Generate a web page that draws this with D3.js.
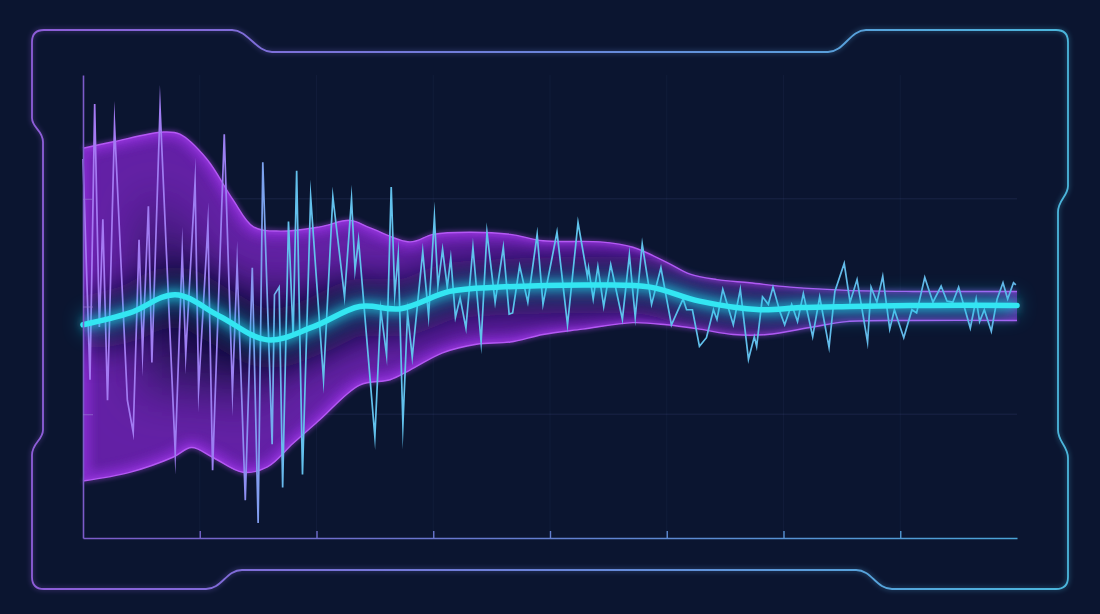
<!DOCTYPE html>
<html>
<head>
<meta charset="utf-8">
<script src="https://cdn.jsdelivr.net/npm/d3@7"></script>
<style>
html, body { margin: 0; background: #0b1530; }
svg { display: block; }
</style>
</head>
<body>
<svg width="1100" height="614"></svg>
<script>
// raw signal (time, amplitude)
var sigT = [0,0.6,1.0,1.4,1.7,2.1,2.7,3.8,4.3,4.8,5.1,5.6,5.9,6.6,7.9,8.5,8.8,9.6,9.9,10.7,
  11.1,12.1,12.8,13.2,13.9,14.5,15.0,15.4,16.2,16.4,16.8,17.1,17.6,18.0,18.3,18.8,19.5,20.6,21.4,22.4,
  23.0,23.3,23.6,25.0,25.5,26.0,26.4,26.7,27.0,27.4,27.8,28.2,29.1,29.6,30.1,30.4,30.8,31.2,31.5,31.9,
  32.3,32.8,33.4,34.1,34.6,35.3,36.0,36.5,36.8,37.4,38.1,38.9,39.4,40.6,41.5,42.4,43.2,43.3,43.7,44.1,
  44.6,45.2,46.2,46.8,47.3,47.9,48.7,49.5,50.4,51.4,51.7,52.2,52.8,53.4,54.0,54.3,54.8,55.7,56.3,57.0,
  57.5,57.7,58.2,58.7,59.1,59.7,60.1,60.7,61.2,61.7,62.5,63.1,63.9,64.4,65.2,65.7,66.3,67.2,67.5,68.0,
  68.5,69.1,69.5,70.3,71.0,71.4,72.1,72.8,73.5,74.0,74.5,75.0,76.0,76.5,76.8,77.2,77.8,78.3,78.8,79.2,
  79.7,79.9];
var sigV = [1.37,-0.68,1.88,-0.19,0.81,-0.87,1.69,-0.87,-1.17,0.62,-0.43,0.93,-0.52,1.85,-1.36,0.51,-0.45,1.16,-0.77,0.76,
  -1.52,1.60,-0.79,0.39,-1.80,0.36,-2.01,1.34,-1.28,0.11,0.18,-1.68,0.79,-0.28,1.26,-1.56,1.02,-0.68,1.02,0.09,
  1.00,0.34,0.62,-1.21,-0.03,-0.45,1.11,0.11,0.48,-1.10,-0.06,-0.47,0.51,-0.09,0.83,0.19,0.53,0.18,0.45,-0.10,
  0.08,-0.20,0.55,-0.33,0.69,0.04,0.55,-0.07,-0.06,0.38,0.04,0.67,0.02,0.69,-0.17,0.78,0.28,0.36,0.07,0.37,
  0,0.39,-0.12,0.48,-0.10,0.58,0.02,0.36,-0.17,0.07,-0.03,-0.03,-0.37,-0.29,-0.03,-0.12,0.16,-0.17,0.16,-0.49,
  -0.28,-0.37,0.09,0.02,0.18,-0.05,-0.17,0.02,-0.14,0.12,-0.28,0.09,-0.38,0.14,0.40,0.04,0.25,-0.33,0.18,0.04,
  0.28,-0.21,-0.03,-0.29,-0.03,-0.06,0.27,0.04,0.19,0.05,0.04,0.18,-0.20,0.07,-0.14,-0.03,-0.23,0.07,0.22,0.07,
  0.22,0.20];

// smoothed trend
var trendT = [0,4.0,7.9,11.7,15.8,19.7,23.7,27.2,31.4,35.7,44.3,48.6,52.8,58.0,61.4,65.7,72.5,80];
var trendV = [-0.17,-0.06,0.11,-0.09,-0.31,-0.19,0,-0.02,0.14,0.18,0.20,0.18,0.05,-0.03,-0.01,0,0.01,0.01];

// envelope
var upT = [0,2.6,6.9,8.3,10.6,12.8,14.6,16.9,20.3,22.9,24.6,28.0,30.0,33.1,36.6,39.4,44.3,47.1,50.0,52.0,54.3,57.1,60.6,65.4,71.1,80];
var upV = [1.47,1.53,1.62,1.60,1.37,1.00,0.74,0.70,0.74,0.80,0.73,0.60,0.67,0.69,0.67,0.61,0.60,0.55,0.41,0.30,0.25,0.22,0.18,0.15,0.14,0.14];
var loT = [0,4.0,7.7,9.3,11.1,13.7,15.8,18.0,20.3,23.7,26.3,28.0,30.8,33.7,36.6,39.4,42.8,47.1,50.0,52.8,55.7,58.6,62.5,65.4,71.1,80];
var loV = [-1.62,-1.54,-1.40,-1.31,-1.40,-1.54,-1.49,-1.27,-1.05,-0.73,-0.68,-0.59,-0.43,-0.35,-0.33,-0.26,-0.21,-0.15,-0.17,-0.21,-0.26,-0.26,-0.19,-0.14,-0.13,-0.13];

var xTicks = [10,20,30,40,50,60,70];
var yTicks = [-1,0,1];

var svg = d3.select("svg");

var x = d3.scaleLinear().domain([0, 80]).range([83, 1017]);
var y = d3.scaleLinear().domain([-2.15, 2.15]).range([538, 75]);

var defs = svg.append("defs");

function hGrad(id, x1, x2, stops){
  var g = defs.append("linearGradient").attr("id", id)
      .attr("gradientUnits", "userSpaceOnUse")
      .attr("x1", x1).attr("x2", x2).attr("y1", 0).attr("y2", 0);
  stops.forEach(function(s){
    g.append("stop").attr("offset", s[0]).attr("stop-color", s[1]);
  });
}
hGrad("frameGrad", 32, 1068, [[0, "#8e5dd8"], [0.5, "#6a84da"], [1, "#4bb6dc"]]);
hGrad("axisGrad", 83, 1017, [[0, "#7c5bc9"], [1, "#4aa3d6"]]);
hGrad("sigGrad", 83, 1017, [[0, "#a679f3"], [0.16, "#9a80f2"], [0.22, "#63c0ec"], [0.55, "#5fc3ec"], [1, "#66b6e8"]]);

function blur(id, sd){
  defs.append("filter").attr("id", id)
      .attr("filterUnits", "userSpaceOnUse")
      .attr("x", 0).attr("y", 0).attr("width", 1100).attr("height", 614)
    .append("feGaussianBlur").attr("stdDeviation", sd);
}
blur("b2", 2);
blur("b5", 5);
blur("b10", 10);
blur("b16", 16);
blur("b26", 26);

var smooth = d3.line()
    .x(function(d){ return x(d[0]); })
    .y(function(d){ return y(d[1]); })
    .curve(d3.curveCatmullRom.alpha(0.5));

// grid
svg.append("g").selectAll("line").data(yTicks).enter().append("line")
   .attr("x1", x(0)).attr("x2", x(80))
   .attr("y1", function(d){ return y(d); }).attr("y2", function(d){ return y(d); })
   .attr("stroke", "rgba(120,130,200,0.15)").attr("stroke-width", 1);
svg.append("g").selectAll("line").data(xTicks).enter().append("line")
   .attr("x1", function(d){ return x(d); }).attr("x2", function(d){ return x(d); })
   .attr("y1", y(2.15)).attr("y2", y(-2.15))
   .attr("stroke", "rgba(120,140,200,0.06)").attr("stroke-width", 1);

// envelope band
var upPts = d3.zip(upT, upV);
var loPts = d3.zip(loT, loV);
var loRev = loPts.slice().reverse();
var bandPath = smooth(upPts) + "L" + smooth(loRev).substring(1) + "Z";

defs.append("clipPath").attr("id", "bandClip").append("path").attr("d", bandPath);

svg.append("path").attr("d", bandPath).attr("fill", "#221352");

var trendPts = d3.zip(trendT, trendV);

var inner = svg.append("g").attr("clip-path", "url(#bandClip)");
inner.append("path").attr("d", bandPath)
     .attr("fill", "none").attr("stroke", "#7a26c2").attr("stroke-width", 130)
     .attr("filter", "url(#b26)").attr("opacity", 0.75);
inner.append("path").attr("d", bandPath)
     .attr("fill", "none").attr("stroke", "#8e2fd8").attr("stroke-width", 16)
     .attr("filter", "url(#b5)").attr("opacity", 0.75);
inner.append("path").attr("d", smooth(trendPts))
     .attr("fill", "none").attr("stroke", "#110b34").attr("stroke-width", 56)
     .attr("filter", "url(#b16)").attr("opacity", 0.8);

// band edges
[upPts, loPts].forEach(function(p){
  svg.append("path").attr("d", smooth(p)).attr("fill", "none")
     .attr("stroke", "#b04ef2").attr("stroke-width", 4).attr("opacity", 0.4).attr("filter", "url(#b2)");
  svg.append("path").attr("d", smooth(p)).attr("fill", "none")
     .attr("stroke", "#b458f4").attr("stroke-width", 1.4);
});

// raw signal
var sigLine = d3.line()
    .x(function(d){ return x(d[0]); })
    .y(function(d){ return y(d[1]); });
svg.append("path").attr("d", sigLine(d3.zip(sigT, sigV)))
   .attr("fill", "none").attr("stroke", "url(#sigGrad)")
   .attr("stroke-width", 1.7).attr("stroke-linejoin", "miter").attr("stroke-miterlimit", 30);

// trend glow + line
svg.append("path").attr("d", smooth(trendPts))
   .attr("fill", "none").attr("stroke", "#16c8ea").attr("stroke-width", 18)
   .attr("filter", "url(#b10)").attr("opacity", 0.5);
svg.append("path").attr("d", smooth(trendPts))
   .attr("fill", "none").attr("stroke", "#28def0").attr("stroke-width", 9)
   .attr("filter", "url(#b5)").attr("opacity", 0.6);
svg.append("path").attr("d", smooth(trendPts))
   .attr("fill", "none").attr("stroke", "#33e6f2").attr("stroke-width", 5.5)
   .attr("stroke-linecap", "round");

// axes
var xAxis = svg.append("g").attr("transform", "translate(0,538)")
   .call(d3.axisBottom(x).tickValues(xTicks).tickSize(-7).tickSizeOuter(0).tickFormat(""));
xAxis.select(".domain").attr("stroke", "url(#axisGrad)").attr("stroke-width", 1.6);
var axCol = d3.interpolateRgb("#7c5bc9", "#4aa3d6");
xAxis.selectAll(".tick line")
   .attr("stroke", function(d){ return axCol(d / 80); }).attr("stroke-width", 1.4);

var yAxis = svg.append("g").attr("transform", "translate(83,0)")
   .call(d3.axisLeft(y).tickValues(yTicks).tickSize(-10).tickSizeOuter(0).tickFormat(""));
yAxis.select(".domain").attr("stroke", "#7c5bc9").attr("stroke-width", 1.6);
yAxis.selectAll(".tick line").attr("stroke", "rgba(150,120,210,0.55)").attr("stroke-width", 1.2);

// frame
var frame = d3.path();
frame.moveTo(44, 30);
frame.lineTo(232, 30);
frame.bezierCurveTo(248, 30, 256, 52, 272, 52);
frame.lineTo(828, 52);
frame.bezierCurveTo(844, 52, 850, 30, 866, 30);
frame.lineTo(1056, 30);
frame.quadraticCurveTo(1068, 30, 1068, 42);
frame.lineTo(1068, 186);
frame.bezierCurveTo(1068, 196, 1058, 200, 1058, 212);
frame.lineTo(1058, 430);
frame.bezierCurveTo(1058, 442, 1068, 446, 1068, 458);
frame.lineTo(1068, 577);
frame.quadraticCurveTo(1068, 589, 1056, 589);
frame.lineTo(892, 589);
frame.bezierCurveTo(876, 589, 872, 570, 856, 570);
frame.lineTo(242, 570);
frame.bezierCurveTo(226, 570, 222, 589, 206, 589);
frame.lineTo(44, 589);
frame.quadraticCurveTo(32, 589, 32, 577);
frame.lineTo(32, 455);
frame.bezierCurveTo(32, 443, 43, 440, 43, 430);
frame.lineTo(43, 142);
frame.bezierCurveTo(43, 130, 32, 128, 32, 118);
frame.lineTo(32, 42);
frame.quadraticCurveTo(32, 30, 44, 30);
frame.closePath();

svg.append("path").attr("d", frame.toString()).attr("fill", "none")
   .attr("stroke", "url(#frameGrad)").attr("stroke-width", 5).attr("opacity", 0.22).attr("filter", "url(#b2)");
svg.append("path").attr("d", frame.toString()).attr("fill", "none")
   .attr("stroke", "url(#frameGrad)").attr("stroke-width", 1.8);
</script>
</body>
</html>
